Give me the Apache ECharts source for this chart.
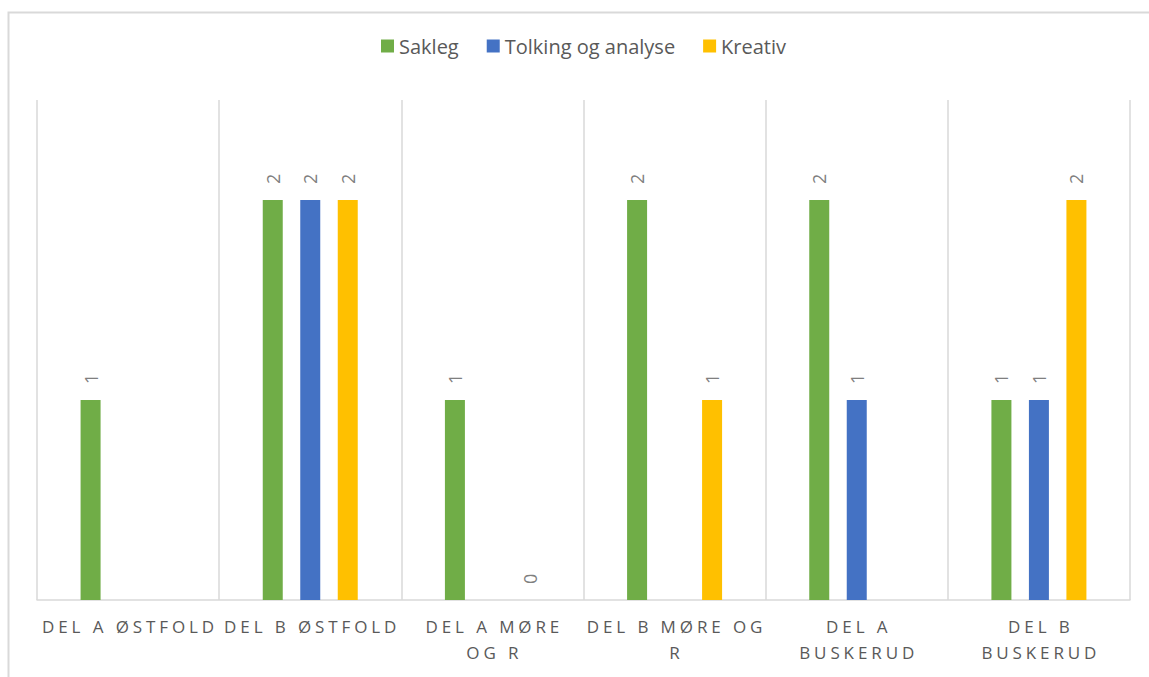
<!DOCTYPE html>
<html>
<head>
<meta charset="utf-8">
<script src="https://cdn.jsdelivr.net/npm/echarts@6/dist/echarts.min.js"></script>
<style>
html,body{margin:0;padding:0;background:#fff;}
#chart{width:1149px;height:677px;}
</style>
</head>
<body>
<div id="chart"></div>
<script>
const categories = ['DEL A ØSTFOLD','DEL B ØSTFOLD','DEL A MØRE OG R','DEL B MØRE OG R','DEL A BUSKERUD','DEL B BUSKERUD'];
const tickLabels = ['DEL A ØSTFOLD','DEL B ØSTFOLD','DEL A MØRE\nOG R','DEL B MØRE OG\nR','DEL A\nBUSKERUD','DEL B\nBUSKERUD'];
const sakleg = [1, 2, 1, 2, 2, 1];
const tolking = [null, 2, null, null, 1, 1];
const kreativ = [null, 2, 0, 1, null, 2];
const seriesNames = ['Sakleg', 'Tolking og analyse', 'Kreativ'];
const colors = ['#70ad47', '#4472c4', '#ffc000'];

const LETTER_SPACING = 3.9;
const chart = echarts.init(document.getElementById('chart'), null, {renderer: 'svg'});
const labelStyle = {
  show: true, position: 'top', rotate: 90, align: 'left', verticalAlign: 'middle',
  distance: 16, color: '#7f7f7f', fontSize: 18, fontFamily: 'Open Sans'
};
function mk(name, data, color) {
  return {
    name, type: 'bar', data, barWidth: 20, barGap: '87.5%',
    itemStyle: {color}, label: labelStyle
  };
}
chart.setOption({
  animation: false,
  color: colors,
  graphic: [{
    type: 'rect', left: 6, top: 10, silent: true,
    shape: {width: 1170, height: 700},
    style: {fill: 'none', stroke: '#d9d9d9', lineWidth: 2}
  }],
  legend: {
    data: seriesNames, left: 376, top: 31, itemWidth: 13, itemHeight: 13, itemGap: 28,
    icon: 'rect',
    textStyle: {color: '#595959', fontSize: 20, fontFamily: 'Open Sans'}
  },
  grid: {left: 37, right: 19, top: 100, bottom: 77, containLabel: false},
  xAxis: {
    type: 'category', data: categories,
    axisLine: {show: true, lineStyle: {color: '#d9d9d9', width: 1.5}},
    axisTick: {show: false},
    splitLine: {show: true, lineStyle: {color: '#d9d9d9', width: 1.5}},
    axisLabel: {
      interval: 0, margin: 13, color: '#595959', fontSize: 17, lineHeight: 26,
      fontFamily: 'Open Sans',
      formatter: (v, i) => tickLabels[i]
    }
  },
  yAxis: {
    type: 'value', min: 0, max: 2.5, show: false, splitLine: {show: false}
  },
  series: [mk(seriesNames[0], sakleg, colors[0]), mk(seriesNames[1], tolking, colors[1]), mk(seriesNames[2], kreativ, colors[2])]
});

function applySpacing() {
  const lines = new Set();
  tickLabels.forEach(t => t.split('\n').forEach(l => lines.add(l)));
  document.querySelectorAll('#chart svg text').forEach(el => {
    if (lines.has(el.textContent.trim())) {
      el.style.letterSpacing = LETTER_SPACING + 'px';
      el.setAttribute('dx', LETTER_SPACING / 2);
    }
  });
}
applySpacing();
chart.on('finished', applySpacing);
</script>
</body>
</html>
